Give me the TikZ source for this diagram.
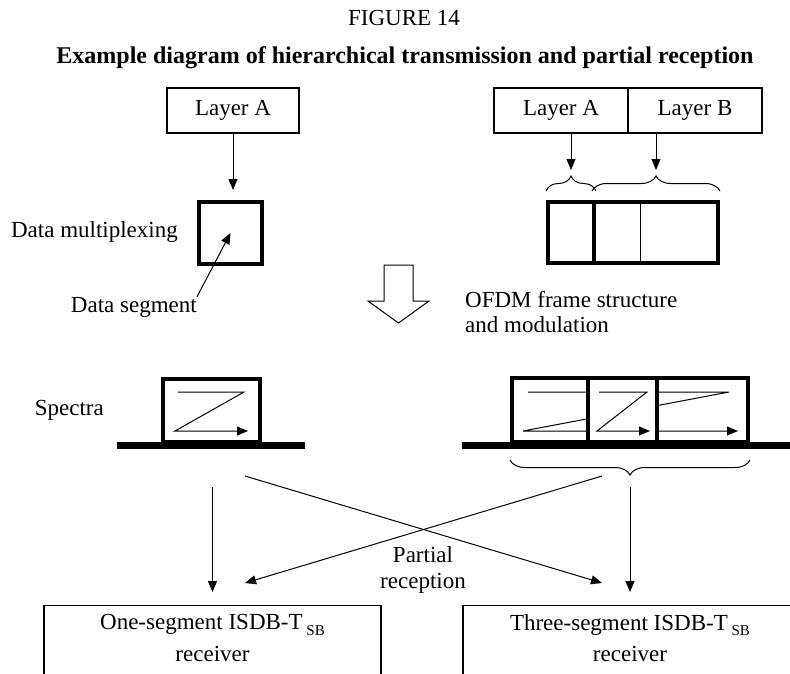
\documentclass[tikz,border=0pt]{standalone}
\usepackage{fontspec}
\setmainfont{Liberation Serif}
\usetikzlibrary{arrows.meta, decorations.pathreplacing}

\newcommand{\subsb}{\,\raisebox{-0.5ex}{\fontsize{15}{15}\selectfont SB}}

\begin{document}
\begin{tikzpicture}[x=1pt, y=-1pt,
    font=\fontsize{23}{25.5}\selectfont,
    >={Triangle[length=11pt, width=9pt]},
    lyrbox/.style={draw, line width=1.2pt, inner sep=0pt},
    segbox/.style={draw, line width=4pt, inner sep=0pt},
    specline/.style={line width=7pt},
    sigline/.style={line width=1pt},
    brc/.style={decorate, decoration={brace, amplitude=15pt}, line width=1pt},
    lbl/.style={inner sep=0pt}]
    \useasboundingbox (0,0) rectangle (790,673);
    \clip (0,0) rectangle (790,673);

    % Heading
    \node[lbl] (fig) at (404,18) {FIGURE 14};
    \node[lbl, font=\fontsize{24}{26}\selectfont\bfseries] (title) at (405,58)
        {Example diagram of hierarchical transmission and partial reception};

    % One layer: data multiplexing
    \node[lyrbox, minimum width=132pt, minimum height=45pt] (lyrA) at (233,110.5) {Layer A};
    \node[segbox, minimum width=63pt, minimum height=62pt] (mux) at (230.5,233) {};
    \draw[sigline, ->, shorten >=10pt] (lyrA.south) -- (lyrA.south |- mux.north);
    \node[lbl, anchor=east] (muxlbl) at (178,232) {Data multiplexing};
    \node[lbl, anchor=east] (seglbl) at (197,307) {Data segment};
    \draw[sigline, ->] (seglbl.north east) -- (mux.center);

    % Two layers: data multiplexing
    \node[lyrbox, minimum width=134pt, minimum height=45pt] (lyrA2) at (561,110.5) {Layer A};
    \node[lyrbox, minimum width=134pt, minimum height=45pt] (lyrB2) at (695,110.5) {Layer B};
    \node[segbox, minimum width=46pt, minimum height=61pt] (frA) at (571,232.5) {};
    \node[segbox, minimum width=124pt, minimum height=61pt] (frB) at (656,232.5) {};
    \draw[sigline] ([xshift=-16pt]frB.north) -- ([xshift=-16pt]frB.south);
    \draw[sigline, ->] (frA.north |- lyrA2.south) -- ([yshift=30pt]frA.north);
    \draw[sigline, ->] (frB.north |- lyrB2.south) -- ([yshift=30pt]frB.north);
    \draw[brc] ([yshift=9pt]frA.north west) -- ([yshift=9pt]frA.north east);
    \draw[brc] ([yshift=9pt]frB.north west) -- ([yshift=9pt]frB.north east);

    % Big hollow arrow
    \draw[line width=1pt] (384,265) -- (413,265) -- (413,301) -- (429,301)
        -- (398.5,323) -- (368,301) -- (384,301) -- cycle;
    \node[lbl, anchor=west, align=left] (ofdm) at (465,312) {OFDM frame structure\\and modulation};

    % Spectra
    \node[lbl, anchor=east] (spclbl) at (104,410) {Spectra};
    \node[segbox, minimum width=97pt, minimum height=63pt] (spA) at (211.5,410.5) {};
    \draw[sigline, ->] (178,392) -- (244,392) -- (175,431) -- (248,431);
    \draw[specline] (117,445) -- (305,445);

    \node[segbox, minimum width=76pt, minimum height=64pt] (spB1) at (550,410) {};
    \node[segbox, minimum width=91pt, minimum height=64pt] (spB3) at (702.5,410) {};
    \draw[sigline, ->] (528,392) -- (729,392) -- (523,431) -- (738,431);
    \node[segbox, fill=white, minimum width=69pt, minimum height=64pt] (spB2) at (622.5,410) {};
    \draw[sigline, ->] (599,392) -- (647,392) -- (597,431) -- (650,431);
    \draw[specline] (462,445) -- (790,445);
    \draw[brc] ([yshift=-16pt]spB3.south east) -- ([yshift=-16pt]spB1.south west);

    % Receivers
    \node[lyrbox, minimum width=337pt, minimum height=120pt, anchor=north] (rxone) at (212.5,605) {};
    \node[lbl, align=center] (rxonetxt) at (212.5,638) {One-segment ISDB-T\subsb\\[6pt]receiver};
    \node[lyrbox, minimum width=334pt, minimum height=120pt, anchor=north] (rxthree) at (630,605) {};
    \node[lbl, align=center] (rxthreetxt) at (630,638) {Three-segment ISDB-T\subsb\\[6pt]receiver};

    \coordinate (outL) at (212.5,487);
    \coordinate (outR) at (630,487);
    \coordinate (crossL) at (245,476);
    \coordinate (crossR) at (602,476);
    \coordinate (endL) at (245,583);
    \coordinate (endR) at (602,583);
    \draw[sigline, ->] (outL) -- ([yshift=13pt]rxone.north);
    \draw[sigline, ->] (outR) -- ([yshift=13pt]rxthree.north);
    \draw[sigline, ->] (crossL) -- (endR);
    \draw[sigline, ->] (crossR) -- (endL);
    \node[lbl, align=center] (partial) at (423,570) {Partial\\reception};

\end{tikzpicture}
\end{document}
